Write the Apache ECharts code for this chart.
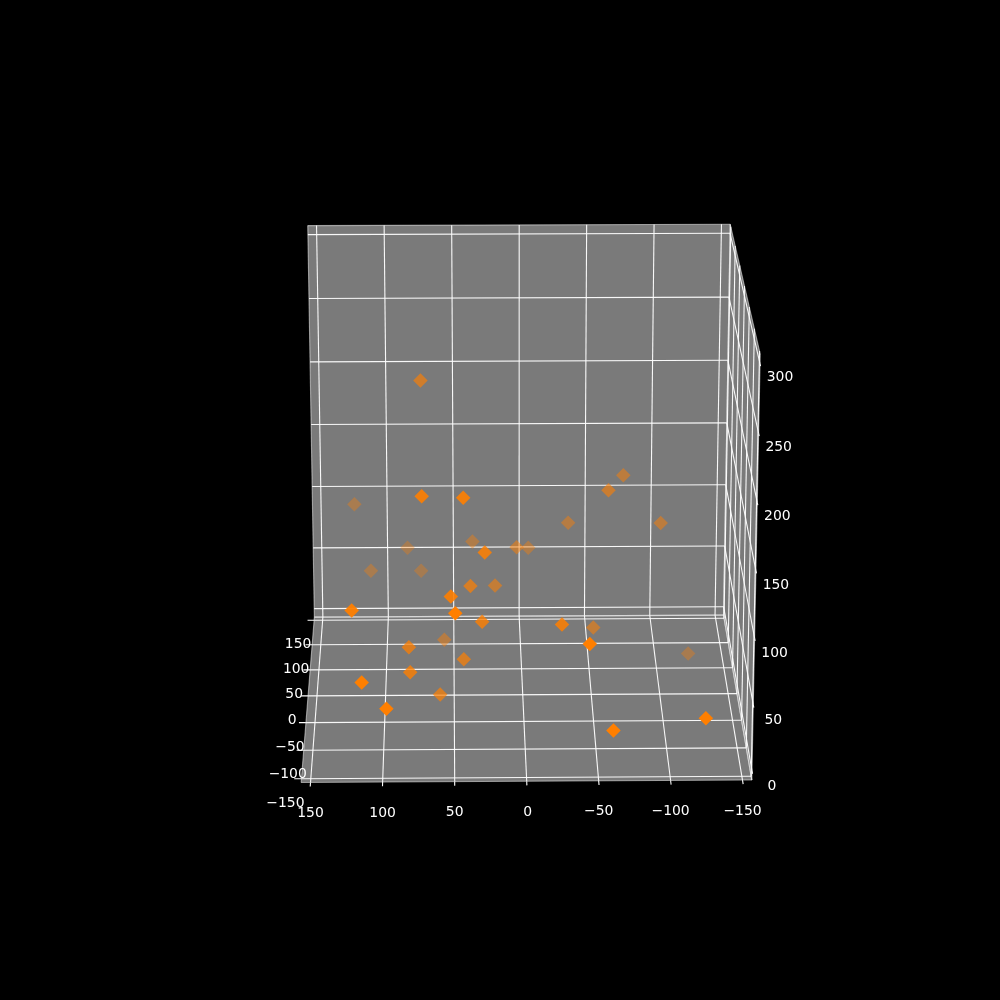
<!DOCTYPE html><html><head><meta charset="utf-8"><style>html,body{margin:0;background:#000}#c{width:1000px;height:1000px}</style></head><body><div id="c"></div>
<script src="https://cdn.jsdelivr.net/npm/echarts@6/dist/echarts.min.js"></script>
<script>
// data values
const xVals=[73,123,72,43,-74,-62,-34,-101,36,4,-5,28,84,111,74,38,20,52,121,49,30,-26,-51,-44,57,82,43,81,114,97,60,-60,-124,-123];
const yVals=[27,84,-72,-73,45,13,48,33,60,29,57,-71,79,68,73,-36,6,-95,-111,-127,-73,-89,-5,-136,22,-64,-53,-84,-141,-148,-61,-156,-154,44];
const zVals=[228,112,175,174,148,148,110,115,91,98,87,132,79,65,63,93,77,108,104,108,80,84,48,88,28,57,43,46,62,45,19,31,39,7];
const xTicks=[150,100,50,0,-50,-100,-150];
const yTicks=[-150,-100,-50,0,50,100,150];
const zTicks=[0,50,100,150,200,250,300];
const xLim=[-156.5,156.5], yLim=[-156.5,156.5], zLim=[-7,307];

// camera
const P=[[-0.13746,0.01373,-0.00545,0.52274],[0.00028,-0.03122,-0.13306,0.68592],[-0.00062,0.03089,-0.01053,1]];
function project(x,y,z){
  const v=[x/100,y/100,z/100,1], d=r=>r[0]*v[0]+r[1]*v[1]+r[2]*v[2]+r[3], w=d(P[2]);
  return [1000*d(P[0])/w,1000*d(P[1])/w,w];
}
const seg=(a,b)=>{const p=project(...a),q=project(...b);return [p[0],p[1],q[0],q[1]];};
const [xa,xb]=xLim,[ya,yb]=yLim,[za,zb]=zLim;
const fmt=v=>String(v).replace('-','\u2212');

// panes
const panes=[
 [[xb,ya,za],[xa,ya,za],[xa,yb,za],[xb,yb,za]],
 [[xb,yb,za],[xa,yb,za],[xa,yb,zb],[xb,yb,zb]],
 [[xa,yb,za],[xa,ya,za],[xa,ya,zb],[xa,yb,zb]]
].map(f=>f.flatMap(c=>project(...c).slice(0,2)));

// lines
const grid=[],edges=[],ticks=[];
xTicks.forEach(t=>{grid.push(seg([t,ya,za],[t,yb,za]),seg([t,yb,za],[t,yb,zb]));ticks.push(seg([t,ya,za],[t,ya-7,za]));});
yTicks.forEach(t=>{grid.push(seg([xb,t,za],[xa,t,za]),seg([xa,t,za],[xa,t,zb]));ticks.push(seg([xb,t,za],[xb+5,t,za]));});
zTicks.forEach(t=>{grid.push(seg([xb,yb,t],[xa,yb,t]),seg([xa,yb,t],[xa,ya,t]));ticks.push(seg([xa,ya,t],[xa,ya-5,t]));});
panes.forEach(p=>{for(let i=0;i<4;i++){const j=(i+1)%4;edges.push([p[2*i],p[2*i+1],p[2*j],p[2*j+1]]);}});

// tick labels
const labels=[];
xTicks.forEach(t=>{const p=project(t,ya,za);labels.push([p[0]+(t===0?1:0),p[1]+31,fmt(t)]);});
yTicks.forEach(t=>{const p=project(xb,t,za);labels.push([p[0]-16,p[1]+24.5,fmt(t)]);});
zTicks.forEach(t=>{const p=project(xa,ya,t);labels.push([p[0]+20,p[1]+16-t/100,fmt(t)]);});

// points, far first, shaded by depth
const proj=xVals.map((x,i)=>project(x,yVals[i],zVals[i]));
const ws=proj.map(p=>p[2]),wMin=Math.min(...ws),wMax=Math.max(...ws);
const pts=proj.map(p=>({value:[p[0],p[1]],w:p[2],itemStyle:{opacity:0.33+0.67*(wMax-p[2])/(wMax-wMin)}})).sort((a,b)=>b.w-a.w);

const lineSeries=(data,stroke,width,z)=>({type:'custom',coordinateSystem:'cartesian2d',data,z,silent:true,clip:false,encode:{x:[0,2],y:[1,3]},
 renderItem:(p,api)=>{const a=api.coord([api.value(0),api.value(1)]),b=api.coord([api.value(2),api.value(3)]);
  return {type:'line',shape:{x1:a[0],y1:a[1],x2:b[0],y2:b[1]},style:{stroke,lineWidth:width,fill:null}};}});

const chart=echarts.init(document.getElementById('c'),null,{renderer:'canvas'});
chart.setOption({
 animation:false,backgroundColor:'#000',
 grid:{left:0,right:0,top:0,bottom:0},
 xAxis:{type:'value',min:0,max:1000,show:false},
 yAxis:{type:'value',min:0,max:1000,inverse:true,show:false},
 series:[
  {type:'custom',coordinateSystem:'cartesian2d',data:panes,z:1,silent:true,clip:false,
   encode:{x:[0,2,4,6],y:[1,3,5,7]},
   renderItem:(p,api)=>{const pt=[];for(let i=0;i<4;i++)pt.push(api.coord([api.value(2*i),api.value(2*i+1)]));
    return {type:'polygon',shape:{points:pt},style:{fill:'#7a7a7a'}};}},
  lineSeries(edges,'rgba(255,255,255,0.5)',1.1,2),
  lineSeries(grid,'rgba(255,255,255,0.95)',1.1,3),
  lineSeries(ticks,'#ffffff',1.1,3),
  {type:'scatter',data:pts,symbol:'diamond',symbolSize:14.5,z:5,silent:true,clip:false,itemStyle:{color:'#ff7f00'}},
  {type:'custom',coordinateSystem:'cartesian2d',data:labels,z:6,silent:true,clip:false,encode:{x:0,y:1},
   renderItem:(p,api)=>{const a=api.coord([api.value(0),api.value(1)]);
    return {type:'text',x:a[0],y:a[1],style:{text:labels[p.dataIndex][2],fill:'#fff',font:'13.9px "DejaVu Sans"',align:'center',verticalAlign:'middle'}};}}
 ]
});
</script></body></html>
